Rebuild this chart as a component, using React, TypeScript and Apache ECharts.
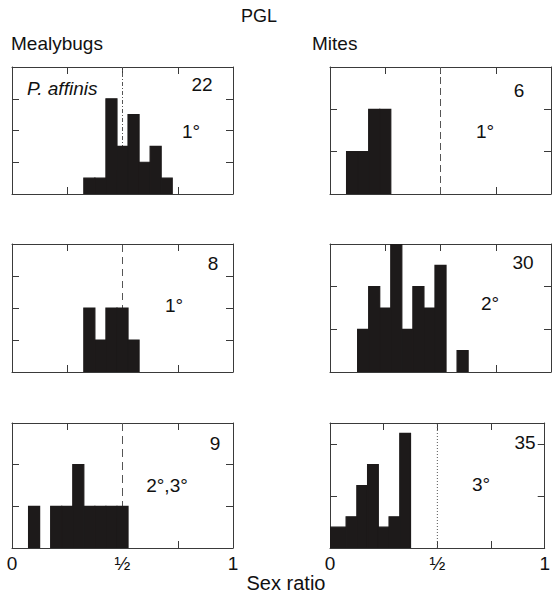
import React, { useEffect, useRef } from "react";
import * as echarts from "echarts";

const FONT = "'Liberation Sans', Arial, Helvetica, sans-serif";
const HALF = 0.5;

// Bin edges (sex ratio) and counts for each histogram
const affinisX0 = [0.325, 0.375, 0.425, 0.475, 0.525, 0.575, 0.625, 0.675];
const affinisX1 = [0.375, 0.425, 0.475, 0.525, 0.575, 0.625, 0.675, 0.725];
const affinisCounts = [1, 1, 6, 3, 5, 2, 3, 1];

const mites1X0 = [0.075, 0.125, 0.175, 0.225];
const mites1X1 = [0.125, 0.175, 0.225, 0.275];
const mites1Counts = [1, 1, 2, 2];

const mealy1X0 = [0.325, 0.375, 0.425, 0.475, 0.525];
const mealy1X1 = [0.375, 0.425, 0.475, 0.525, 0.575];
const mealy1Counts = [2, 1, 2, 2, 1];

const mites2X0 = [0.125, 0.175, 0.225, 0.275, 0.325, 0.375, 0.425, 0.475, 0.575];
const mites2X1 = [0.175, 0.225, 0.275, 0.325, 0.375, 0.425, 0.475, 0.525, 0.625];
const mites2Counts = [2, 4, 3, 6, 2, 4, 3, 5, 1];

const mealy23X0 = [0.075, 0.175, 0.225, 0.275, 0.325, 0.375, 0.425, 0.475];
const mealy23X1 = [0.125, 0.225, 0.275, 0.325, 0.375, 0.425, 0.475, 0.525];
const mealy23Counts = [1, 1, 1, 2, 1, 1, 1, 1];

const mites3X0 = [0.0, 0.075, 0.125, 0.175, 0.225, 0.275, 0.325];
const mites3X1 = [0.075, 0.125, 0.175, 0.225, 0.275, 0.325, 0.375];
const mites3Counts = [2, 3, 6, 8, 2, 3, 11];

// Axis ranges per panel
const yMaxes = [8, 3, 4, 6, 3, 12];
const yIntervals = [2, 1, 1, 2, 1, 5];
const sampleSizes = ["22", "6", "8", "30", "9", "35"];
const stages = ["1°", "1°", "1°", "2°", "2°,3°", "3°"];
const xTickLabels: Record<string, string> = {
  "0": "{w|0}",
  "0.5": "{h|½}",
  "1": "{w|1}",
};

const histX0 = [affinisX0, mites1X0, mealy1X0, mites2X0, mealy23X0, mites3X0];
const histX1 = [affinisX1, mites1X1, mealy1X1, mites2X1, mealy23X1, mites3X1];
const histCounts = [affinisCounts, mites1Counts, mealy1Counts, mites2Counts, mealy23Counts, mites3Counts];

// layout (styles / positions)
const gridBoxes = [
  { left: 12, top: 67, width: 221, height: 127 },
  { left: 330, top: 67, width: 221, height: 127 },
  { left: 12, top: 244, width: 221, height: 128 },
  { left: 330, top: 244, width: 221, height: 128 },
  { left: 12, top: 423, width: 221, height: 125 },
  { left: 330, top: 423, width: 221, height: 125 },
];
const halfDash: (number[] | null)[] = [
  [4, 2, 1, 2],
  [7, 4],
  [7, 5],
  null,
  [8, 5],
  [1, 2],
];
const nPos = [
  [202, 84],
  [519, 90],
  [213, 263],
  [523, 262],
  [215, 443],
  [525, 442],
];
const stagePos = [
  [191, 131],
  [485, 131],
  [174, 305],
  [490, 303],
  [167, 485],
  [481, 484],
];

const AXIS_COLOR = "#3a3a3a";
const BAR_COLOR = "#1d1a1a";

export default function App() {
  const ref = useRef<HTMLDivElement>(null);
  useEffect(() => {
    document.body.style.margin = "0";
    if (!ref.current) return;
    const chart = echarts.init(ref.current, undefined, { renderer: "svg" });

    const grid: any[] = [];
    const xAxis: any[] = [];
    const yAxis: any[] = [];
    const series: any[] = [];
    const graphic: any[] = [];

    for (let i = 0; i < 6; i++) {
      grid.push({ ...gridBoxes[i], containLabel: false });
      const isBottom = i >= 4;
      const axisLine = { show: true, onZero: false, lineStyle: { color: AXIS_COLOR, width: 1 } };
      const axisTick = { show: true, inside: true, length: 7, lineStyle: { color: AXIS_COLOR, width: 1 } };
      xAxis.push({
        type: "value",
        gridIndex: i,
        position: "bottom",
        min: 0,
        max: 1,
        interval: 0.25,
        axisLine,
        axisTick,
        splitLine: { show: false },
        axisLabel: {
          show: isBottom,
          margin: 5,
          fontFamily: FONT,
          color: "#111",
          showMinLabel: true,
          showMaxLabel: true,
          formatter: (v: number) => xTickLabels[String(v)] ?? "",
          rich: {
            w: { fontSize: 19, fontFamily: FONT, color: "#111", lineHeight: 20 },
            h: { fontSize: 19, fontFamily: FONT, color: "#111", lineHeight: 20 },
          },
        },
      });
      xAxis.push({
        type: "value",
        gridIndex: i,
        position: "top",
        min: 0,
        max: 1,
        interval: 0.25,
        axisLine,
        axisTick,
        splitLine: { show: false },
        axisLabel: { show: false },
      });
      yAxis.push({
        type: "value",
        gridIndex: i,
        position: "left",
        min: 0,
        max: yMaxes[i],
        interval: yIntervals[i],
        axisLine,
        axisTick,
        splitLine: { show: false },
        axisLabel: { show: false },
      });
      yAxis.push({
        type: "value",
        gridIndex: i,
        position: "right",
        min: 0,
        max: yMaxes[i],
        interval: yIntervals[i],
        axisLine,
        axisTick,
        splitLine: { show: false },
        axisLabel: { show: false },
      });

      const dash = halfDash[i];
      if (dash) {
        series.push({
          type: "line",
          xAxisIndex: 2 * i,
          yAxisIndex: 2 * i,
          data: [
            [HALF, 0],
            [HALF, yMaxes[i]],
          ],
          symbol: "none",
          silent: true,
          z: 1,
          lineStyle: { color: "#555", width: 1, type: dash },
        });
      }

      const data = histX0[i].map((x0, k) => [x0, histX1[i][k], histCounts[i][k]]);
      series.push({
        type: "custom",
        xAxisIndex: 2 * i,
        yAxisIndex: 2 * i,
        z: 3,
        clip: true,
        encode: { x: [0, 1], y: 2 },
        data,
        renderItem: (params: any, api: any) => {
          const p0 = api.coord([api.value(0), api.value(2)]);
          const p1 = api.coord([api.value(1), 0]);
          return {
            type: "rect",
            shape: { x: p0[0], y: p0[1], width: p1[0] - p0[0], height: p1[1] - p0[1] },
            style: { fill: BAR_COLOR, stroke: BAR_COLOR, lineWidth: 1.2 },
          };
        },
      });

      graphic.push({
        type: "text",
        x: nPos[i][0],
        y: nPos[i][1],
        style: {
          text: sampleSizes[i],
          font: `19px ${FONT}`,
          fill: "#111",
          textAlign: "center",
          textVerticalAlign: "middle",
        },
      });
      graphic.push({
        type: "text",
        x: stagePos[i][0],
        y: stagePos[i][1],
        style: {
          text: stages[i],
          font: `19px ${FONT}`,
          fill: "#111",
          textAlign: "center",
          textVerticalAlign: "middle",
        },
      });
    }

    const labels = [
      { text: "PGL", x: 259, y: 16, align: "center", font: `18px ${FONT}` },
      { text: "Mealybugs", x: 11, y: 43, align: "left", font: `19px ${FONT}` },
      { text: "Mites", x: 312, y: 43, align: "left", font: `19px ${FONT}` },
      { text: "Sex ratio", x: 286, y: 583, align: "center", font: `20px ${FONT}` },
      { text: "P. affinis", x: 27, y: 88, align: "left", font: `italic 19px ${FONT}` },
    ];
    labels.forEach((l) =>
      graphic.push({
        type: "text",
        x: l.x,
        y: l.y,
        z: 10,
        style: {
          text: l.text,
          font: l.font,
          fill: "#111",
          textAlign: l.align,
          textVerticalAlign: "middle",
        },
      })
    );

    chart.setOption({
      animation: false,
      backgroundColor: "#fff",
      grid,
      xAxis,
      yAxis,
      series,
      graphic,
    });
    return () => chart.dispose();
  }, []);
  return <div ref={ref} style={{ width: 553, height: 599 }} />;
}
